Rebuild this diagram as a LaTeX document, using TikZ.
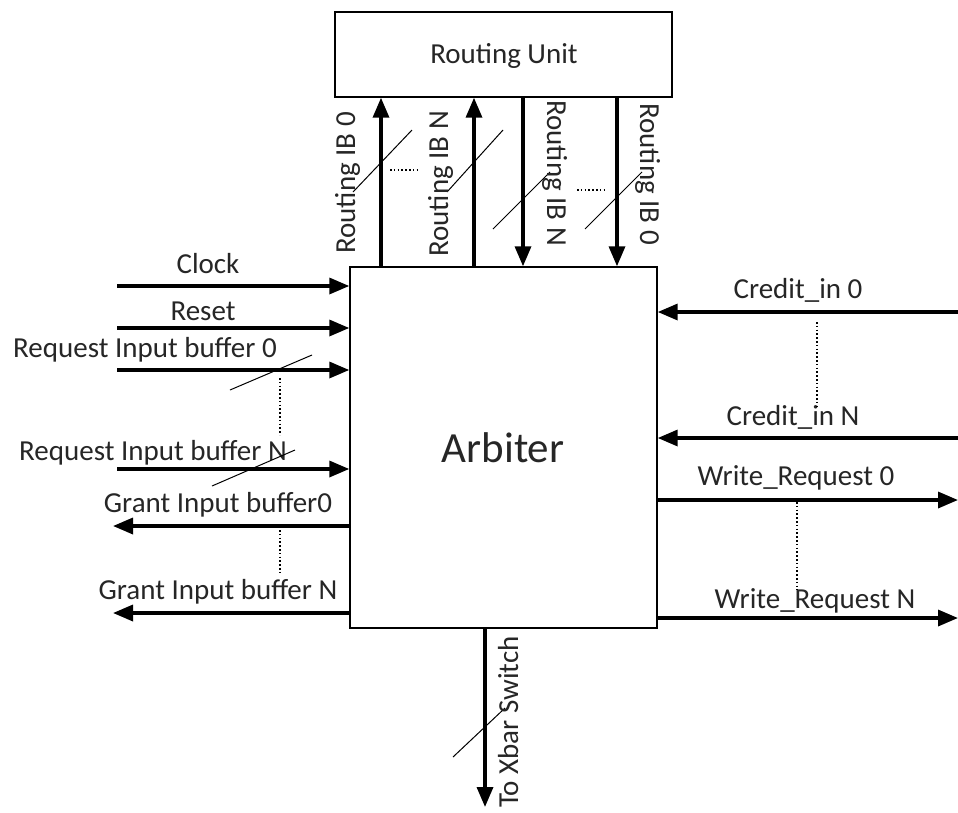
\documentclass[tikz,border=0pt]{standalone}
\usepackage{fontspec}
\setmainfont{Carlito}
\usetikzlibrary{arrows.meta}
\tikzset{
  box/.style={draw, line width=1.4pt, inner sep=0pt},
  sig/.style={line width=3.4pt, -{Triangle[length=20pt,width=16pt]}},
  slash/.style={line width=1pt},
  dots/.style={line width=2pt, dash pattern=on 1.6pt off 2.2pt},
  lbl/.style={font=\fontsize{29}{31}\selectfont, text=black!85, inner sep=0pt, anchor=base},
}
\begin{document}
\begin{tikzpicture}[x=1pt,y=-1pt]
\useasboundingbox (0,0) rectangle (958,812);
% boxes
\node[box, minimum width=337pt, minimum height=85pt] (ru) at (503.5,54.5) {};
\node[lbl] (rut) at (504,63) {Routing Unit};
\node[box, minimum width=307pt, minimum height=361pt] (arb) at (503.5,447.5) {};
\node[lbl, font=\fontsize{43}{45}\selectfont] (arbt) at (503,462) {Arbiter};
% vertical routing connectors
\coordinate (v1) at (381,0);
\coordinate (v2) at (474,0);
\coordinate (v3) at (523,0);
\coordinate (v4) at (617,0);
\draw[sig] (arb.north -| v1) -- (ru.south -| v1);
\draw[sig] (arb.north -| v2) -- (ru.south -| v2);
\draw[sig] (ru.south -| v3) -- (arb.north -| v3);
\draw[sig] (ru.south -| v4) -- (arb.north -| v4);
\draw[slash] (353,192) -- (412,130);
\draw[slash] (447,192) -- (503,130);
\draw[slash] (493,229) -- (550,172);
\draw[slash] (585,229) -- (642,172);
\draw[dots] (390,170) -- (420,170);
\draw[dots] (577,190) -- (605,190);
\node[lbl, rotate=90] (lr0) at (355,183) {Routing IB 0};
\node[lbl, rotate=90] (lrN) at (448,184) {Routing IB N};
\node[lbl, rotate=-90] (rrN) at (547,173) {Routing IB N};
\node[lbl, rotate=-90] (rr0) at (640,174) {Routing IB 0};
% left inputs
\coordinate (clk) at (117,286);
\coordinate (rst) at (117,328);
\coordinate (rq0) at (117,370);
\coordinate (rqN) at (117,469);
\coordinate (gr0) at (113,526);
\coordinate (grN) at (113,613);
\draw[sig] (clk) -- (clk -| arb.west);
\draw[sig] (rst) -- (rst -| arb.west);
\draw[sig] (rq0) -- (rq0 -| arb.west);
\draw[sig] (rqN) -- (rqN -| arb.west);
\draw[sig] (gr0 -| arb.west) -- (gr0);
\draw[sig] (grN -| arb.west) -- (grN);
\node[lbl] (tclk) at (208,273) {Clock};
\node[lbl] (trst) at (203,320) {Reset};
\node[lbl] (trq0) at (145,357) {Request Input buffer 0};
\node[lbl] (trqN) at (153,460) {Request Input buffer N};
\node[lbl] (tgr0) at (218,512) {Grant Input buffer0};
\node[lbl] (tgrN) at (218,599) {Grant Input buffer N};
\draw[slash] (230,390) -- (312,355);
\draw[slash] (212,486) -- (295,450);
\draw[dots] (280,378) -- (280,435);
\draw[dots] (280,530) -- (280,573);
% right side
\coordinate (cr0) at (958,312);
\coordinate (crN) at (958,438);
\coordinate (wr0) at (958,500);
\coordinate (wrN) at (958,618);
\draw[sig] (cr0) -- (cr0 -| arb.east);
\draw[sig] (crN) -- (crN -| arb.east);
\draw[sig] (wr0 -| arb.east) -- (wr0);
\draw[sig] (wrN -| arb.east) -- (wrN);
\node[lbl] (tcr0) at (798,298) {Credit\_in 0};
\node[lbl] (tcrN) at (793,425) {Credit\_in N};
\node[lbl] (twr0) at (796,485) {Write\_Request 0};
\node[lbl] (twrN) at (815,608) {Write\_Request N};
\draw[dots] (817,322) -- (817,407);
\draw[dots] (797,502) -- (797,590);
% bottom
\coordinate (xb) at (485,807);
\draw[sig] (arb.south -| xb) -- (xb);
\draw[slash] (453,757) -- (505,708);
\node[lbl, rotate=90] (txb) at (518,722) {To Xbar Switch};
\end{tikzpicture}
\end{document}
